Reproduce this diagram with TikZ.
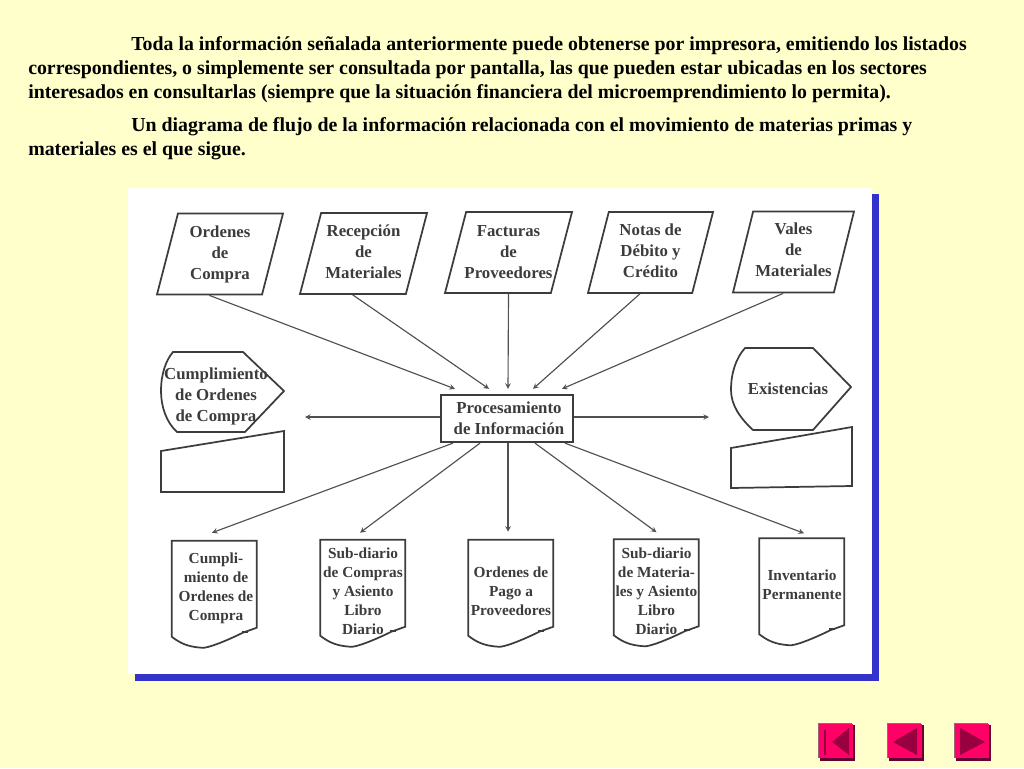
\documentclass[tikz,border=0pt]{standalone}
\usepackage{fontspec}
\setmainfont{Liberation Serif}
\usetikzlibrary{calc, shapes.geometric}

\definecolor{paper}{HTML}{FFFFCC}
\definecolor{frameblue}{HTML}{3333CC}
\definecolor{inkgray}{HTML}{3C3C3C}
\definecolor{navface}{HTML}{FF0066}
\definecolor{navdark}{HTML}{99003F}
\definecolor{navshade}{HTML}{660033}
\definecolor{navlight}{HTML}{A06078}

\def\px{0.75pt}

\tikzset{
	para/.style={anchor=base west, inner sep=0pt, font=\fontsize{14.88}{18}\selectfont\bfseries, text=black},
	label/.style={align=center, inner sep=0pt, text=inkgray, font=\fontsize{12.6}{15.75}\selectfont\bfseries},
	doclabel/.style={label, font=\fontsize{11.5}{14.25}\selectfont\bfseries},
	outline/.style={draw=inkgray, line width=1.3pt, line join=miter},
	inputbox/.style={outline, trapezium, trapezium stretches=true, trapezium left angle=76, trapezium right angle=104, minimum height=81*\px},
	procbox/.style={label, outline, line width=1.7pt, minimum width=132*\px, minimum height=47*\px},
	docbox/.style={inner sep=0pt, minimum width=85*\px, minimum height=107*\px},
	flow/.style={-stealth, draw=inkgray!90, line width=0.85pt},
	navbox/.style={fill=navface, inner sep=0pt, minimum width=34*\px, minimum height=34*\px}
}

\begin{document}
\begin{tikzpicture}[x=0.75pt, y=-0.75pt]
			\def\docW{85};

			\useasboundingbox (0,0) rectangle (1024,768);
			\fill[paper] (0,0) rectangle (1024,768);

			% text above the panel
			\foreach \name/\x/\y/\txt in {
				parA/131/50.5/{Toda la información señalada anteriormente puede obtenerse por impresora, emitiendo los listados},
				parB/28/74.5/{correspondientes, o simplemente ser consultada por pantalla, las que pueden estar ubicadas en los sectores},
				parC/28/98.5/{interesados en consultarlas (siempre que la situación financiera del microemprendimiento lo permita).},
				parD/131/131.5/{Un diagrama de flujo de la información relacionada con el movimiento de materias primas y},
				parE/28/155.5/{materiales es el que sigue.}}
			{
				\node[para] (\name) at (\x,\y) {\txt};
			}

			% panel
			\begin{scope}
				\fill[white] (128,188) rectangle (872,674);
				\fill[frameblue] (872,194) rectangle (879,681);
				\fill[frameblue] (135,674) rectangle (879,681);
			\end{scope}

			% top row
			\foreach \name/\x/\y/\w/\ty/\txt in {
				ordenes/220/254/126/254/{Ordenes\\de\\Compra},
				recepcion/363.5/253.5/127/251.5/{Recepción\\de\\Materiales},
				facturas/508.5/252.5/127/252.5/{Facturas\\de\\Proveedores},
				notas/650.5/252.5/125/250.5/{Notas de\\Débito y\\Crédito},
				vales/793.5/252/121/250/{Vales\\de\\Materiales}}
			{
				\node[inputbox, minimum width=\w*\px] (\name) at (\x,\y) {};
				\node[label] (\name txt) at (\x,\ty) {\txt};
			}

			\node[procbox] (proc) at (507,418.5) {};
			\node[label] (proctxt) at (509,418) {Procesamiento\\de Información};

			% displays and manual inputs
			\begin{scope}[outline]
				\draw (173,352) -- (243,352) -- (284,391) -- (245,432) -- (177,432) .. controls (166,422) and (161,406) .. (161,391) .. controls (161,374) and (166,360) .. cycle;
				\draw (161,451) -- (284,431) -- (284,492) -- (161,492) -- cycle;
				\draw (745,348) -- (813,348) -- (851,387) -- (813,430) -- (753,430) .. controls (740,418) and (731,405) .. (731,390) .. controls (731,373) and (736,358) .. cycle;
				\draw (731,448) -- (852,427) -- (852,486) -- (731,488) -- cycle;
			\end{scope}
			\node[label] (cumpl) at (216,396) {Cumplimiento\\de Ordenes\\de Compra};
			\node[label] (exist) at (788,389) {Existencias};

			% bottom row
			\foreach \name/\x/\y/\tx/\ty/\txt in {
				doca/214.5/594.5/216/588.5/{Cumpli-\\miento de\\Ordenes de\\Compra},
				docb/363/593.5/363/591/{Sub-diario\\de Compras\\y Asiento\\Libro\\Diario},
				docc/511/593.5/511/591/{Ordenes de\\Pago a\\Proveedores},
				docd/656.5/593/656.5/591/{Sub-diario\\de Materia-\\les y Asiento\\Libro\\Diario},
				doce/802/592/802/585/{Inventario\\Permanente}}
			{
				\node[docbox] (\name) at (\x,\y) {};
				\begin{scope}[shift={(\name.north west)}]
					\draw[outline] (0,96) -- (0,0) -- (\docW,0) -- (\docW,87) -- (\docW-14,92) .. controls (\docW-30,100) and (\docW-50,108) .. (30,107) .. controls (15,106) and (8,102) .. cycle;
					\draw[outline, line width=1.6pt] (\docW-15,91) -- (\docW-9,91);
				\end{scope}
				\node[doclabel] (\name txt) at (\tx,\ty) {\txt};
			}

			% connector ends
			\coordinate (procNa) at ($(proc.north)+(-52,-5)$);
			\coordinate (procNb) at ($(proc.north)+(-18,-5)$);
			\coordinate (procNc) at ($(proc.north)+(1,-5)$);
			\coordinate (procNd) at ($(proc.north)+(26,-5)$);
			\coordinate (procNe) at ($(proc.north)+(55,-5)$);
			\coordinate (procSa) at ($(proc.south)+(-54,0)$);
			\coordinate (procSb) at ($(proc.south)+(-27,0)$);
			\coordinate (procSc) at ($(proc.south)+(1,0)$);
			\coordinate (procSd) at ($(proc.south)+(28,0)$);
			\coordinate (procSe) at ($(proc.south)+(58,0)$);
			\coordinate (docaEnd) at ($(doca.north)+(-2.5,-8)$);
			\coordinate (docbEnd) at ($(docb.north)+(-3,-7)$);
			\coordinate (doccEnd) at ($(docc.north)+(-3,-8)$);
			\coordinate (docdEnd) at ($(docd.north)+(0,-7)$);
			\coordinate (doceEnd) at ($(doce.north)+(2,-5)$);
			\coordinate (cumplEnd) at (305,417);
			\coordinate (existEnd) at (709,417);

			\begin{scope}[flow]
				\draw (ordenes.bottom side) -- (procNa);
				\draw (recepcion.bottom side) -- (procNb);
				\draw (facturas.south) -- (procNc);
				\draw (notas.bottom side) -- (procNd);
				\draw (vales.bottom side) -- (procNe);
				\draw (proc.west |- cumplEnd) -- (cumplEnd);
				\draw (proc.east |- existEnd) -- (existEnd);
				\draw (procSa) -- (docaEnd);
				\draw (procSb) -- (docbEnd);
				\draw (procSc) -- (doccEnd);
				\draw (procSd) -- (docdEnd);
				\draw (procSe) -- (doceEnd);
			\end{scope}

			% navigation buttons
			\foreach \name/\x in {navfirst/835.5, navprev/904.5, navnext/972}
			{
				\fill[navshade] (\x-16,725) rectangle (\x+19,761);
				\fill[navlight] (\x-18,723) rectangle (\x+16,758);
				\node[navbox] (\name) at (\x,741) {};
			}
			\begin{scope}[navdark]
				\fill (823.5,730) rectangle (826,755);
				\fill (832,742) -- (849,728) -- (849,755) -- cycle;
				\fill (893,742) -- (917,728) -- (917,755) -- cycle;
				\fill (985,742) -- (960,728) -- (960,755) -- cycle;
			\end{scope}
		\end{tikzpicture}
\end{document}
